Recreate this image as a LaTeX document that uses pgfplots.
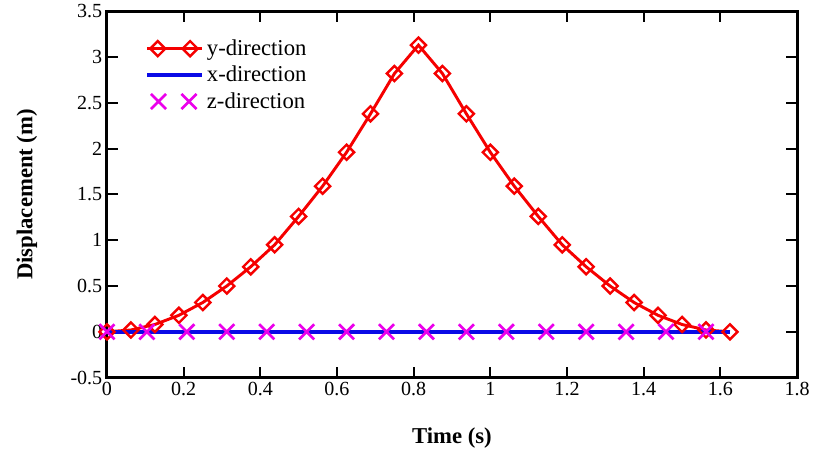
\documentclass[border=0pt]{standalone}
\usepackage{pgfplots}
\pgfplotsset{compat=1.18}
\usepackage{fontspec}
\setmainfont{Liberation Serif}

\definecolor{ydir}{RGB}{245,0,0}
\definecolor{xdir}{RGB}{10,10,230}
\definecolor{zdir}{RGB}{235,0,235}

\begin{document}
\begin{tikzpicture}
\begin{axis}[
    scale only axis,
    width=517pt, height=274.5pt,
    clip=false,
    xmin=0, xmax=1.8,
    ymin=-0.5, ymax=3.5,
    xtick={0,0.2,...,1.8},
    ytick={-0.5,0,...,3.5},
    /pgf/number format/assume math mode=true,
    /pgf/number format/fixed,
    xticklabel={\pgfmathprintnumber{\tick}},
    yticklabel={\pgfmathprintnumber{\tick}},
    tick align=inside,
    major tick length=8pt,
    tick style={line width=1.4pt, black},
    axis line style={line width=2.2pt},
    ticklabel style={font=\rmfamily\fontsize{15}{16}\selectfont},
    xlabel={Time (s)},
    ylabel={Displacement (m)},
    xlabel style={at={(axis description cs:0.5,-0.165)}, anchor=center},
    ylabel style={at={(axis description cs:-0.116,0.5)}, anchor=center},
    label style={font=\fontsize{17}{19}\selectfont\bfseries},
    legend style={draw=none, fill=none, inner sep=0pt, at={(0.055,0.93)}, anchor=north west,
        font=\fontsize{17}{19}\selectfont, row sep=2.5pt},
    legend cell align=left,
]
% y-direction
\addplot[color=ydir, line width=2.2pt, mark=square, mark size=4pt,
    mark options={rotate=45, line width=1.8pt, fill=none},
    legend image code/.code={
        \draw[color=ydir, line width=2.2pt] (0cm,0cm) -- (1.45cm,0cm);
        \path[draw=ydir, line width=1.8pt] plot[mark=square, mark size=4pt, mark options={rotate=45}] coordinates {(0.28cm,0cm)(1.13cm,0cm)};
    }]
coordinates {
(0,0)(0.0625,0.02)(0.125,0.08)(0.1875,0.18)(0.25,0.32)(0.3125,0.50)
(0.375,0.71)(0.4375,0.95)(0.5,1.26)(0.5625,1.59)(0.625,1.96)(0.6875,2.38)
(0.75,2.82)(0.8125,3.13)(0.875,2.82)(0.9375,2.38)(1.0,1.96)(1.0625,1.59)
(1.125,1.26)(1.1875,0.95)(1.25,0.71)(1.3125,0.50)(1.375,0.32)(1.4375,0.18)
(1.5,0.08)(1.5625,0.02)(1.625,0)
};
\addlegendentry{y-direction}
% x-direction
\addplot[color=xdir, line width=3pt, mark=none,
    legend image code/.code={
        \draw[color=xdir, line width=3pt] (0cm,0cm) -- (1.45cm,0cm);
    }]
coordinates {(0,0)(1.625,0)};
\addlegendentry{x-direction}
% z-direction
\addplot[color=zdir, only marks, mark=x, mark size=8pt,
    mark options={line width=2pt},
    legend image code/.code={
        \path[draw=zdir, line width=2pt] plot[mark=x, mark size=8pt] coordinates {(0.3cm,0cm)};
        \path[draw=zdir, line width=2pt] plot[mark=x, mark size=8pt] coordinates {(1.1cm,0cm)};
        \path[draw=none] (0cm,0cm) -- (1.45cm,0cm);
    }]
coordinates {
(0,0)(0.1042,0)(0.2083,0)(0.3125,0)(0.4167,0)(0.5208,0)(0.625,0)(0.7292,0)
(0.8333,0)(0.9375,0)(1.0417,0)(1.1458,0)(1.25,0)(1.3542,0)(1.4583,0)(1.5625,0)
};
\addlegendentry{z-direction}
% page extent as in the reference
\path (rel axis cs:-0.155,-0.216) (rel axis cs:1.0275,1.027);
\end{axis}
\end{tikzpicture}
\end{document}
